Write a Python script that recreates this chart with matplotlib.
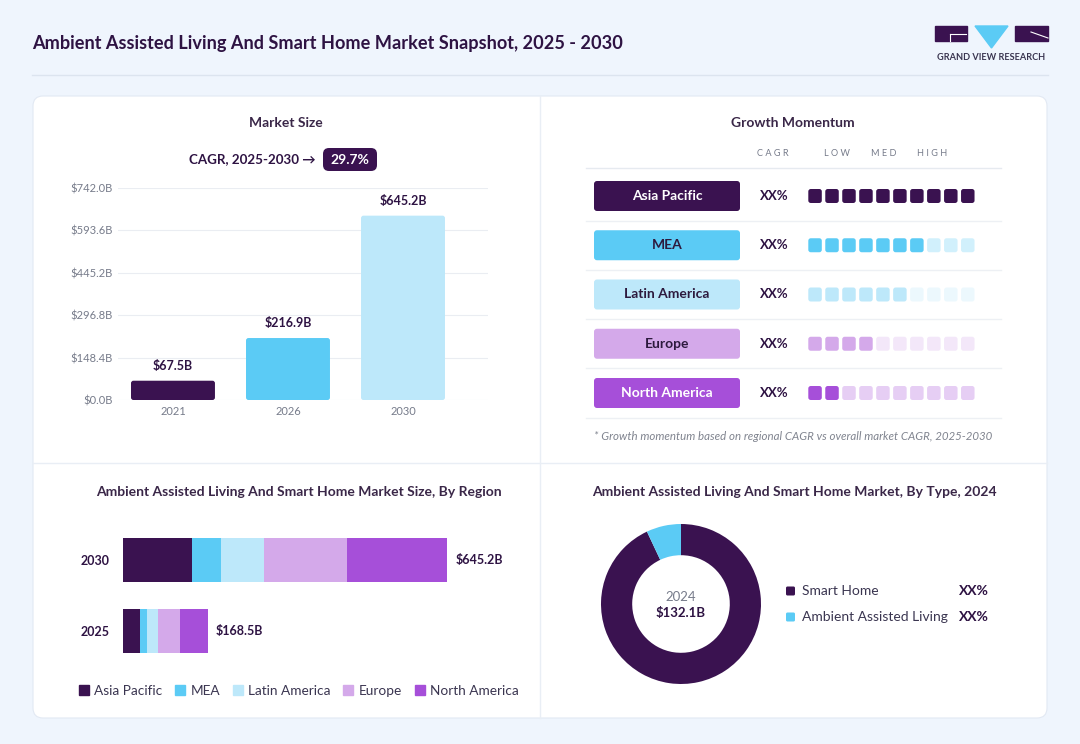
import matplotlib
matplotlib.use("Agg")
import matplotlib.pyplot as plt
from matplotlib.patches import FancyBboxPatch, Polygon, Rectangle
from matplotlib.lines import Line2D

plt.rcParams['font.family'] = ['Lato', 'DejaVu Sans']

# ---- data ----
years = ['2021', '2026', '2030']
market_size = [67.5, 216.9, 645.2]
y_ticks = [0.0, 148.4, 296.8, 445.2, 593.6, 742.0]
cagr_text = '29.7%'

regions = ['Asia Pacific', 'MEA', 'Latin America', 'Europe', 'North America']
region_colors = ['#3A1250', '#5BCBF5', '#BDE8FA', '#D4A9EA', '#A64FD9']
region_text_colors = ['white', '#2D1A3E', '#2D1A3E', '#2D1A3E', 'white']
region_cagr = ['XX%', 'XX%', 'XX%', 'XX%', 'XX%']
momentum = [10, 7, 6, 4, 2]
momentum_max = 10

stack_years = ['2025', '2030']
asia_pacific = [33.3, 137.9]
mea = [14.0, 57.7]
latin_america = [22.6, 84.4]
europe = [44.0, 165.1]
north_america = [54.6, 200.1]
stack_totals = ['$168.5B', '$645.2B']

types = ['Smart Home', 'Ambient Assisted Living']
type_share = [93, 7]
type_colors = ['#3A1250', '#5BCBF5']
type_labels = ['XX%', 'XX%']
donut_year = '2024'
donut_total = '$132.1B'

DARK = '#2E1343'
GRAY = '#767B8A'

W, H = 1080, 744


def box(x0, y0, x1, y1):
    return [x0 / W, 1 - y1 / H, (x1 - x0) / W, (y1 - y0) / H]


fig = plt.figure(figsize=(10.8, 7.44), dpi=100)
fig.patch.set_facecolor('#EFF5FD')

bg = fig.add_axes([0, 0, 1, 1])
bg.set_xlim(0, W)
bg.set_ylim(H, 0)
bg.axis('off')

# header
bg.text(32, 44, 'Ambient Assisted Living And Smart Home Market Snapshot, 2025 - 2030',
        fontsize=13.1, weight='bold', color=DARK, va='center')
bg.plot([32, 1048], [75, 75], color='#DCE4EF', lw=1)

# logo
bg.add_patch(Rectangle((935, 26), 32, 15, color='#3A1250'))
bg.add_patch(Polygon([(975, 26), (1008, 26), (991.5, 48)], color='#5BCBF5'))
bg.add_patch(Rectangle((1015, 26), 33, 15, color='#3A1250'))
bg.plot([950, 966], [34, 34], color='white', lw=0.8)
bg.plot([950, 950], [34, 41], color='white', lw=0.8)
bg.plot([1031, 1048], [32, 38], color='white', lw=0.8)
bg.text(991.5, 57, 'GRAND VIEW RESEARCH', fontsize=6.6, weight='bold', color='#3A3550',
        ha='center', va='center')

# card
bg.add_patch(FancyBboxPatch((33, 96), 1014, 622, boxstyle='round,pad=0,rounding_size=10',
                            fc='white', ec='#E2E9F3', lw=0.8))
bg.plot([540, 540], [96, 718], color='#E9EEF5', lw=1)
bg.plot([33, 1047], [463, 463], color='#E9EEF5', lw=1)

# ---- market size ----
bg.text(286, 123, 'Market Size', fontsize=10, weight='bold', color='#3A2748',
        ha='center', va='center')
bg.text(316, 159, 'CAGR, 2025-2030 →', fontsize=9.6, weight='bold', color=DARK,
        ha='right', va='center')
bg.add_patch(FancyBboxPatch((323, 148), 54, 23, boxstyle='round,pad=0,rounding_size=6',
                            fc='#3A1250', ec='none'))
bg.text(350, 159.5, cagr_text, fontsize=10, weight='bold', color='white',
        ha='center', va='center')

ax1 = fig.add_axes(box(118, 188, 488, 400))
ax1.set_facecolor('none')
xs = range(len(years))
bars = ax1.bar(xs, market_size, width=0.73, color=region_colors[:3], zorder=3)
# round the bar corners a little
x_per_px = (2.739 + 0.478) / 370
y_per_px = 742 / 212
for b in bars:
    b.set_visible(False)
    ax1.add_patch(FancyBboxPatch((b.get_x(), b.get_y()), b.get_width(), b.get_height(),
                                 boxstyle=f'round,pad=0,rounding_size={2.5 * x_per_px}',
                                 mutation_aspect=y_per_px / x_per_px,
                                 fc=b.get_facecolor(), ec='none', zorder=3))
for x, v in zip(xs, market_size):
    ax1.text(x, v + 31, f'${v}B', ha='center', va='bottom', fontsize=9,
             weight='bold', color=DARK)
ax1.set_xlim(-0.478, 2.739)
ax1.set_ylim(0, 742)
ax1.set_yticks(y_ticks)
ax1.set_yticklabels([f'${v:.1f}B' for v in y_ticks])
ax1.set_xticks(list(xs))
ax1.set_xticklabels(years)
ax1.yaxis.grid(True, color='#EAEDF2', lw=0.8)
ax1.set_axisbelow(True)
for s in ax1.spines.values():
    s.set_visible(False)
ax1.tick_params(length=0, labelsize=8, labelcolor=GRAY)
ax1.tick_params(axis='y', pad=4)
ax1.tick_params(axis='x', pad=4)

# ---- growth momentum ----
bg.text(793, 123, 'Growth Momentum', fontsize=10, weight='bold', color='#3A2748',
        ha='center', va='center')
for lab, hx in zip(['C A G R', 'L O W', 'M E D', 'H I G H'], [773, 837, 884, 932]):
    bg.text(hx, 154, lab, fontsize=6.6, color=GRAY, ha='center', va='center')
bg.plot([586, 1001], [168, 168], color='#E6EAF0', lw=1)

row_step = 49.25
sq_step = 16.97
for r, reg in enumerate(regions):
    ry = 196 + row_step * r
    bg.add_patch(FancyBboxPatch((594, ry - 15), 146, 30, boxstyle='round,pad=0,rounding_size=3',
                                fc=region_colors[r], ec='none'))
    bg.text(667, ry, reg, fontsize=10, weight='bold', color=region_text_colors[r],
            ha='center', va='center')
    bg.text(774, ry, region_cagr[r], fontsize=9.5, weight='bold', color=DARK,
            ha='center', va='center')
    for i in range(momentum_max):
        alpha = 1.0 if i < momentum[r] else 0.28
        bg.add_patch(FancyBboxPatch((808.3 + sq_step * i, ry - 7), 13.5, 14,
                                    boxstyle='round,pad=0,rounding_size=2.5',
                                    fc=region_colors[r], alpha=alpha, ec='none'))
    bg.plot([586, 1001], [ry + row_step / 2, ry + row_step / 2], color='#EDF0F4', lw=1)

bg.text(793, 437, '* Growth momentum based on regional CAGR vs overall market CAGR, 2025-2030',
        fontsize=8.3, style='italic', color='#80848F', ha='center', va='center')

# ---- stacked bar by region ----
bg.text(299, 492, 'Ambient Assisted Living And Smart Home Market Size, By Region',
        fontsize=10, weight='bold', color='#3A2748', ha='center', va='center')
ax3 = fig.add_axes(box(123, 520, 500, 670))
ax3.set_facecolor('none')
series = [asia_pacific, mea, latin_america, europe, north_america]
ypos = list(range(len(stack_years)))
left = [0.0] * len(stack_years)
for vals, col in zip(series, region_colors):
    ax3.barh(ypos, vals, left=left, height=0.62, color=col)
    left = [a + b for a, b in zip(left, vals)]
for y, tot, lab in zip(ypos, left, stack_totals):
    ax3.text(tot + 16, y, lab, fontsize=9, weight='bold', color=DARK, va='center')
ax3.set_xlim(0, 750.1)
ax3.set_ylim(-0.549, 1.563)
ax3.set_xticks([])
ax3.set_yticks(ypos)
ax3.set_yticklabels(stack_years, fontsize=9, weight='bold', color=DARK)
ax3.tick_params(length=0, pad=10)
for s in ax3.spines.values():
    s.set_visible(False)

handles = [Line2D([], [], marker='s', ls='', markersize=7.5, color=c) for c in region_colors]
fig.legend(handles, regions, loc='center', bbox_to_anchor=(299 / W, 1 - 691 / H),
           ncol=5, frameon=False, handlelength=0.7, handletextpad=0.4,
           columnspacing=0.95, fontsize=9.8, labelcolor='#3A3550')

# ---- donut by type ----
bg.text(794, 492, 'Ambient Assisted Living And Smart Home Market, By Type, 2024',
        fontsize=10, weight='bold', color='#3A2748', ha='center', va='center')
ax4 = fig.add_axes(box(601, 524, 761, 684))
ax4.pie(type_share, colors=type_colors, startangle=90, counterclock=False,
        wedgeprops=dict(width=0.39, linewidth=0))
ax4.set_xlim(-1, 1)
ax4.set_ylim(-1, 1)
ax4.text(0, 0.09, donut_year, fontsize=9.5, color=GRAY, ha='center', va='center')
ax4.text(0, -0.11, donut_total, fontsize=9.5, weight='bold', color=DARK,
         ha='center', va='center')

for k, (t, c, lab) in enumerate(zip(types, type_colors, type_labels)):
    ly = 591 + 26 * k
    bg.add_patch(FancyBboxPatch((786, ly - 4.5), 9, 9, boxstyle='round,pad=0,rounding_size=1.5',
                                fc=c, ec='none'))
    bg.text(802, ly, t, fontsize=10, color='#3A3550', va='center')
    bg.text(959, ly, lab, fontsize=10, weight='bold', color=DARK, va='center')

fig.savefig('out.png', dpi=100, facecolor=fig.get_facecolor())
